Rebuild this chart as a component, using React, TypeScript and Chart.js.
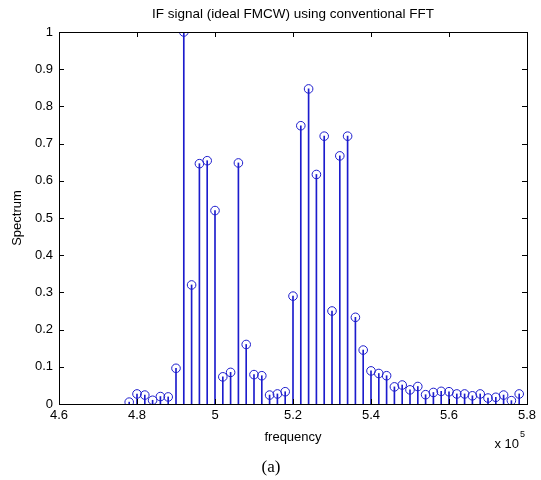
import React, { useEffect, useRef } from "react";
import { Chart, registerables } from "chart.js";

Chart.register(...registerables);

// Frequencies (Hz)
const freqs = [
  478000, 480000, 482000, 484000, 486000, 488000, 490000, 492000, 494000, 496000,
  498000, 500000, 502000, 504000, 506000, 508000, 510000, 512000, 514000, 516000,
  518000, 520000, 522000, 524000, 526000, 528000, 530000, 532000, 534000, 536000,
  538000, 540000, 542000, 544000, 546000, 548000, 550000, 552000, 554000, 556000,
  558000, 560000, 562000, 564000, 566000, 568000, 570000, 572000, 574000, 576000,
  578000,
];

// Normalised spectrum values
const spectrum = [
  0.005, 0.027, 0.024, 0.010, 0.020, 0.019, 0.096, 1.0, 0.32, 0.646,
  0.654, 0.52, 0.073, 0.085, 0.648, 0.16, 0.079, 0.076, 0.024, 0.027,
  0.033, 0.29, 0.748, 0.847, 0.617, 0.72, 0.25, 0.667, 0.72, 0.233,
  0.145, 0.089, 0.082, 0.076, 0.046, 0.051, 0.038, 0.047, 0.025, 0.031,
  0.034, 0.033, 0.027, 0.027, 0.022, 0.027, 0.016, 0.018, 0.024, 0.009,
  0.027,
];

const titleText = "IF signal (ideal FMCW) using conventional FFT";
const xLabel = "frequency";
const yLabel = "Spectrum";
const caption = "(a)";

const BLUE = "rgb(28,28,205)";
const FONT = "'Liberation Sans', Arial, sans-serif";

const framePlugin = {
  id: "matlabFrame",
  afterDraw(chart: any) {
    const { ctx, chartArea, scales } = chart;
    const { left, right, top, bottom } = chartArea;
    const x = scales.x;
    const y = scales.y;
    ctx.save();
    ctx.strokeStyle = "#000";
    ctx.lineWidth = 1;
    ctx.strokeRect(left + 0.5, top + 0.5, right - left, bottom - top);
    const tl = 5;
    ctx.beginPath();
    x.ticks.forEach((t: any) => {
      const px = Math.round(x.getPixelForValue(t.value)) + 0.5;
      ctx.moveTo(px, bottom);
      ctx.lineTo(px, bottom - tl);
      ctx.moveTo(px, top);
      ctx.lineTo(px, top + tl);
    });
    y.ticks.forEach((t: any) => {
      const py = Math.round(y.getPixelForValue(t.value)) + 0.5;
      ctx.moveTo(left, py);
      ctx.lineTo(left + tl, py);
      ctx.moveTo(right, py);
      ctx.lineTo(right - tl, py);
    });
    ctx.stroke();

    // exponent label
    ctx.fillStyle = "#000";
    ctx.textBaseline = "middle";
    ctx.textAlign = "right";
    ctx.font = `13px ${FONT}`;
    ctx.fillText("x 10", 519, 444);
    ctx.textAlign = "left";
    ctx.font = `9px ${FONT}`;
    ctx.fillText("5", 520, 435);

    // caption
    ctx.textAlign = "center";
    ctx.font = "17px 'Liberation Serif', 'Times New Roman', serif";
    ctx.fillText(caption, 271, 468);
    ctx.restore();
  },
};

export default function App() {
  const ref = useRef<HTMLCanvasElement | null>(null);

  useEffect(() => {
    if (!ref.current) return;
    const pts = freqs.map((f, i) => ({ x: f, y: spectrum[i] }));
    const chart = new Chart(ref.current, {
      type: "scatter",
      data: {
        datasets: [
          {
            type: "scatter",
            data: pts,
            pointStyle: "circle",
            pointRadius: 4.3,
            pointBorderWidth: 1,
            pointBorderColor: BLUE,
            pointBackgroundColor: "rgba(0,0,0,0)",
            borderColor: BLUE,
            backgroundColor: "rgba(0,0,0,0)",
          } as any,
          {
            type: "bar",
            data: pts,
            barThickness: 1,
            backgroundColor: BLUE,
            borderWidth: 0,
          } as any,
        ],
      },
      options: {
        responsive: false,
        animation: false,
        events: [],
        layout: { padding: { left: 0, right: 14, top: 0, bottom: 0 } },
        plugins: {
          legend: { display: false },
          tooltip: { enabled: false },
          title: {
            display: true,
            text: titleText,
            fullSize: false,
            color: "#000",
            font: { family: FONT, size: 13.5, weight: "normal" },
            padding: { top: 6, bottom: 9.8 },
          },
        },
        scales: {
          x: {
            type: "linear",
            min: 460000,
            max: 580000,
            offset: false,
            grid: { display: false, drawTicks: false },
            border: { display: false },
            ticks: {
              stepSize: 20000,
              padding: 4,
              color: "#000",
              font: { family: FONT, size: 13 },
              maxRotation: 0,
              autoSkip: false,
              callback: (v: any) => (Number(v) / 1e5).toFixed(1).replace(/\.0$/, ""),
            },
            title: {
              display: true,
              text: xLabel,
              color: "#000",
              font: { family: FONT, size: 13 },
              padding: { top: 0, bottom: 35 },
            },
            afterFit: (s: any) => {
              s.height = 76;
            },
          },
          y: {
            type: "linear",
            min: 0,
            max: 1,
            grid: { display: false, drawTicks: false },
            border: { display: false },
            ticks: {
              stepSize: 0.1,
              padding: 6,
              color: "#000",
              font: { family: FONT, size: 13 },
              autoSkip: false,
              callback: (v: any) => Number(v).toFixed(1).replace(/\.0$/, ""),
            },
            title: {
              display: true,
              text: yLabel,
              color: "#000",
              font: { family: FONT, size: 13 },
              padding: { top: 10, bottom: 0 },
            },
            afterFit: (s: any) => {
              s.width = 59;
            },
          },
        },
      } as any,
      plugins: [framePlugin],
    });
    return () => chart.destroy();
  }, []);

  return (
    <div
      style={{
        position: "absolute",
        left: 0,
        top: 0,
        width: 541,
        height: 480,
        background: "#fff",
      }}
    >
      <canvas ref={ref} width={541} height={480} style={{ display: "block" }} />
    </div>
  );
}
